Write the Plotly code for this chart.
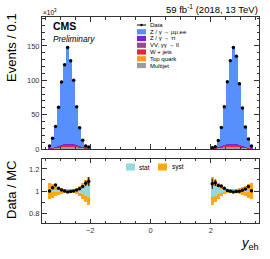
import plotly.graph_objects as go

# ---------------- data ----------------
bin_centers = [-3.35, -3.25, -3.15, -3.05, -2.95, -2.85, -2.75, -2.65, -2.55, -2.45, -2.35, -2.25, -2.15, -2.05,
               2.05, 2.15, 2.25, 2.35, 2.45, 2.55, 2.65, 2.75, 2.85, 2.95, 3.05, 3.15, 3.25, 3.35]

data_vals = [4.4, 15.7, 32.8, 60.8, 97.5, 122.5, 147.5, 128.4, 100.0, 61.3, 30.9, 12.7, 4.4, 3.0,
             2.0, 3.4, 12.3, 31.4, 61.3, 98.0, 128.4, 147.5, 134.8, 95.0, 59.8, 31.9, 14.7, 4.4]

multijet = [0.4, 0.9, 1.6, 2.4, 3.1, 3.6, 3.9, 3.9, 3.6, 3.1, 2.4, 1.6, 0.9, 0.5,
            0.5, 0.9, 1.6, 2.4, 3.1, 3.6, 3.9, 3.9, 3.6, 3.1, 2.4, 1.6, 0.9, 0.4]
top_quark = [0.05, 0.1, 0.15, 0.2, 0.25, 0.3, 0.3, 0.3, 0.3, 0.25, 0.2, 0.15, 0.1, 0.05,
             0.05, 0.1, 0.15, 0.2, 0.25, 0.3, 0.3, 0.3, 0.3, 0.25, 0.2, 0.15, 0.1, 0.05]
wjets = [0.2, 0.5, 0.9, 1.4, 1.9, 2.3, 2.5, 2.5, 2.3, 1.9, 1.4, 0.9, 0.5, 0.3,
         0.3, 0.5, 0.9, 1.4, 1.9, 2.3, 2.5, 2.5, 2.3, 1.9, 1.4, 0.9, 0.5, 0.2]
vv = [0.05, 0.05, 0.1, 0.1, 0.15, 0.15, 0.2, 0.2, 0.15, 0.15, 0.1, 0.1, 0.05, 0.05,
      0.05, 0.05, 0.1, 0.1, 0.15, 0.15, 0.2, 0.2, 0.15, 0.15, 0.1, 0.1, 0.05, 0.05]
ztautau = [0.05, 0.1, 0.15, 0.2, 0.25, 0.25, 0.2, 0.2, 0.25, 0.25, 0.2, 0.2, 0.15, 0.05,
           0.05, 0.15, 0.2, 0.2, 0.25, 0.25, 0.2, 0.2, 0.25, 0.25, 0.2, 0.15, 0.1, 0.05]
zll = [3.7, 13.6, 28.2, 55.0, 90.9, 115.9, 141.9, 121.9, 93.4, 55.1, 26.0, 9.3, 2.4, 1.9,
       0.9, 1.5, 8.8, 25.7, 54.2, 90.9, 121.7, 141.9, 128.9, 89.6, 55.1, 28.4, 12.5, 3.6]

ratio_vals = [1.0, 1.03, 1.055, 1.025, 1.01, 1.0, 0.99, 0.995, 1.0, 1.01, 1.02, 1.04, 1.07, 1.085,
              1.065, 1.075, 1.05, 1.045, 1.025, 1.005, 0.997, 0.99, 0.995, 0.998, 1.006, 1.018, 1.04, 1.003]
ratio_err = [0.01, 0.008, 0.006, 0.005, 0.004, 0.004, 0.004, 0.004, 0.005, 0.006, 0.009, 0.013, 0.025, 0.04,
             0.045, 0.03, 0.013, 0.009, 0.006, 0.005, 0.004, 0.004, 0.004, 0.004, 0.005, 0.006, 0.008, 0.012]
syst_err = [0.075, 0.06, 0.045, 0.035, 0.025, 0.018, 0.015, 0.015, 0.02, 0.03, 0.045, 0.07, 0.1, 0.13,
            0.13, 0.1, 0.07, 0.045, 0.03, 0.02, 0.015, 0.015, 0.018, 0.025, 0.035, 0.045, 0.06, 0.075]
stat_err = [0.012, 0.01, 0.008, 0.006, 0.005, 0.004, 0.004, 0.004, 0.006, 0.012, 0.02, 0.03, 0.042, 0.055,
            0.055, 0.042, 0.03, 0.02, 0.012, 0.006, 0.004, 0.004, 0.004, 0.005, 0.006, 0.008, 0.01, 0.012]

bin_width = 0.1

# ---------------- style ----------------
FONT = "Liberation Sans"
C_ZLL = "#5790fc"
C_ZTT = "#7a21dd"
C_VV = "#964a8b"
C_WJ = "#e42536"
C_TOP = "#f89c20"
C_QCD = "#9c9ca1"
C_STAT = "#92dadd"
C_SYST = "#ffa90e"

W, H = 270, 259
ML, MR, MT, MB = 42, 11, 17, 36
PW = W - ML - MR
PH = H - MT - MB


def px(xp):
    return (xp - ML) / PW


def py(yp):
    return (H - MB - yp) / PH


fig = go.Figure()

stack = [("Multijet", multijet, C_QCD), ("Top quark", top_quark, C_TOP), ("W + jets", wjets, C_WJ),
         ("VV", vv, C_VV), ("Ztt", ztautau, C_ZTT), ("Zll", zll, C_ZLL)]
for name, vals, col in stack:
    fig.add_trace(go.Bar(x=bin_centers, y=vals, width=bin_width, marker=dict(color=col, line=dict(width=0)),
                         name=name, showlegend=False, xaxis="x", yaxis="y"))

fig.add_trace(go.Scatter(x=bin_centers, y=data_vals, mode="markers",
                         marker=dict(color="black", size=3.5), showlegend=False, xaxis="x", yaxis="y"))

# ratio bands
fig.add_trace(go.Bar(x=bin_centers, y=[2 * e for e in syst_err], base=[1 - e for e in syst_err],
                     width=bin_width, marker=dict(color=C_SYST, line=dict(width=0)),
                     showlegend=False, xaxis="x2", yaxis="y2"))
fig.add_trace(go.Bar(x=bin_centers, y=[2 * e for e in stat_err], base=[1 - e for e in stat_err],
                     width=bin_width, marker=dict(color=C_STAT, line=dict(width=0)),
                     showlegend=False, xaxis="x2", yaxis="y2"))
fig.add_trace(go.Scatter(x=bin_centers, y=ratio_vals, mode="markers",
                         error_y=dict(type="data", array=ratio_err, color="black", thickness=1, width=0),
                         marker=dict(color="black", size=3.5), showlegend=False, xaxis="x2", yaxis="y2"))

axis_common = dict(showline=True, linecolor="#333333", linewidth=1, mirror="allticks", ticks="inside",
                   tickcolor="#333333", showgrid=False, zeroline=False,
                   tickfont=dict(family=FONT, size=7.5, color="#333333"))

y_split_top = py(149)
y_split_bot = py(159)

fig.update_layout(
    width=W, height=H, margin=dict(l=ML, r=MR, t=MT, b=MB),
    paper_bgcolor="white", plot_bgcolor="white",
    barmode="stack", bargap=0, showlegend=False,
    xaxis=dict(domain=[0, 1], range=[-3.6, 3.6], anchor="y", showticklabels=False, dtick=2, tick0=0,
               ticklen=5, minor=dict(dtick=0.5, ticks="inside", ticklen=2.5, tickcolor="#333333"), **axis_common),
    yaxis=dict(domain=[y_split_top, 1], range=[0, 192], anchor="x", dtick=50, tick0=0, ticklen=5,
               minor=dict(dtick=10, ticks="inside", ticklen=2.5, tickcolor="#333333"), **axis_common),
    xaxis2=dict(domain=[0, 1], range=[-3.6, 3.6], anchor="y2", dtick=2, tick0=0, ticklen=4,
                minor=dict(dtick=0.5, ticks="inside", ticklen=2, tickcolor="#333333"), **axis_common),
    yaxis2=dict(domain=[0, y_split_bot], range=[0.71, 1.29], anchor="x2", tickvals=[0.8, 1.0, 1.2],
                ticktext=["0.8", "1", "1.2"], ticklen=5,
                minor=dict(dtick=0.1, ticks="inside", ticklen=2.5, tickcolor="#333333"), **axis_common),
)

ann = []
shapes = []


def text(xp, yp, s, size, xanchor="left", yanchor="middle", angle=0, color="black"):
    ann.append(dict(x=px(xp), y=py(yp), xref="paper", yref="paper", text=s, showarrow=False,
                    xanchor=xanchor, yanchor=yanchor, textangle=angle,
                    font=dict(family=FONT, size=size, color=color)))


text(260, 9.5, "59 fb<sup>-1</sup> (2018, 13 TeV)", 9.5, xanchor="right")
text(41, 12.5, "×10<sup>3</sup>", 6.5)
text(51, 26, "<b>CMS</b>", 10.5)
text(51, 39.5, "<i>Preliminary</i>", 8.3)
text(11, 48, "Events / 0.1", 13, xanchor="center", angle=-90)
text(11, 190, "Data / MC", 13, xanchor="center", angle=-90)
text(261, 243, "<i>y</i><sub>eh</sub>", 13, xanchor="right")

# legend (upper)
leg_items = [("Z / γ → μμ,ee", C_ZLL), ("Z / γ → ττ", C_ZTT), ("VV, γγ → ll", C_VV),
             ("W + jets", C_WJ), ("Top quark", C_TOP), ("Multijet", C_QCD)]
y0 = 25.0
dy = 6.75
shapes.append(dict(type="line", xref="paper", yref="paper", x0=px(137), x1=px(146), y0=py(y0), y1=py(y0),
                   line=dict(color="black", width=1)))
shapes.append(dict(type="circle", xref="paper", yref="paper", x0=px(140.3), x1=px(142.7), y0=py(y0 - 1.2),
                   y1=py(y0 + 1.2), fillcolor="black", line=dict(width=0)))
text(147.5, y0, "Data", 6)
for i, (lab, col) in enumerate(leg_items):
    yc = y0 + dy * (i + 1)
    shapes.append(dict(type="rect", xref="paper", yref="paper", x0=px(137), x1=px(146), y0=py(yc - 2.6),
                       y1=py(yc + 2.6), fillcolor=col, line=dict(width=0)))
    text(147.5, yc, lab, 6)

# legend (ratio)
shapes.append(dict(type="rect", xref="paper", yref="paper", x0=px(126), x1=px(135), y0=py(163.5), y1=py(170.5),
                   fillcolor=C_STAT, line=dict(width=0)))
text(136.5, 167, "stat", 6.5)
shapes.append(dict(type="rect", xref="paper", yref="paper", x0=px(158), x1=px(167), y0=py(163.5), y1=py(170.5),
                   fillcolor=C_SYST, line=dict(width=0)))
text(169.5, 167, "syst", 6.5)

fig.update_layout(annotations=ann, shapes=shapes)

fig.write_html("out.html", config={"displayModeBar": False},
               post_script="document.body.style.margin='0';document.body.style.overflow='hidden';")
